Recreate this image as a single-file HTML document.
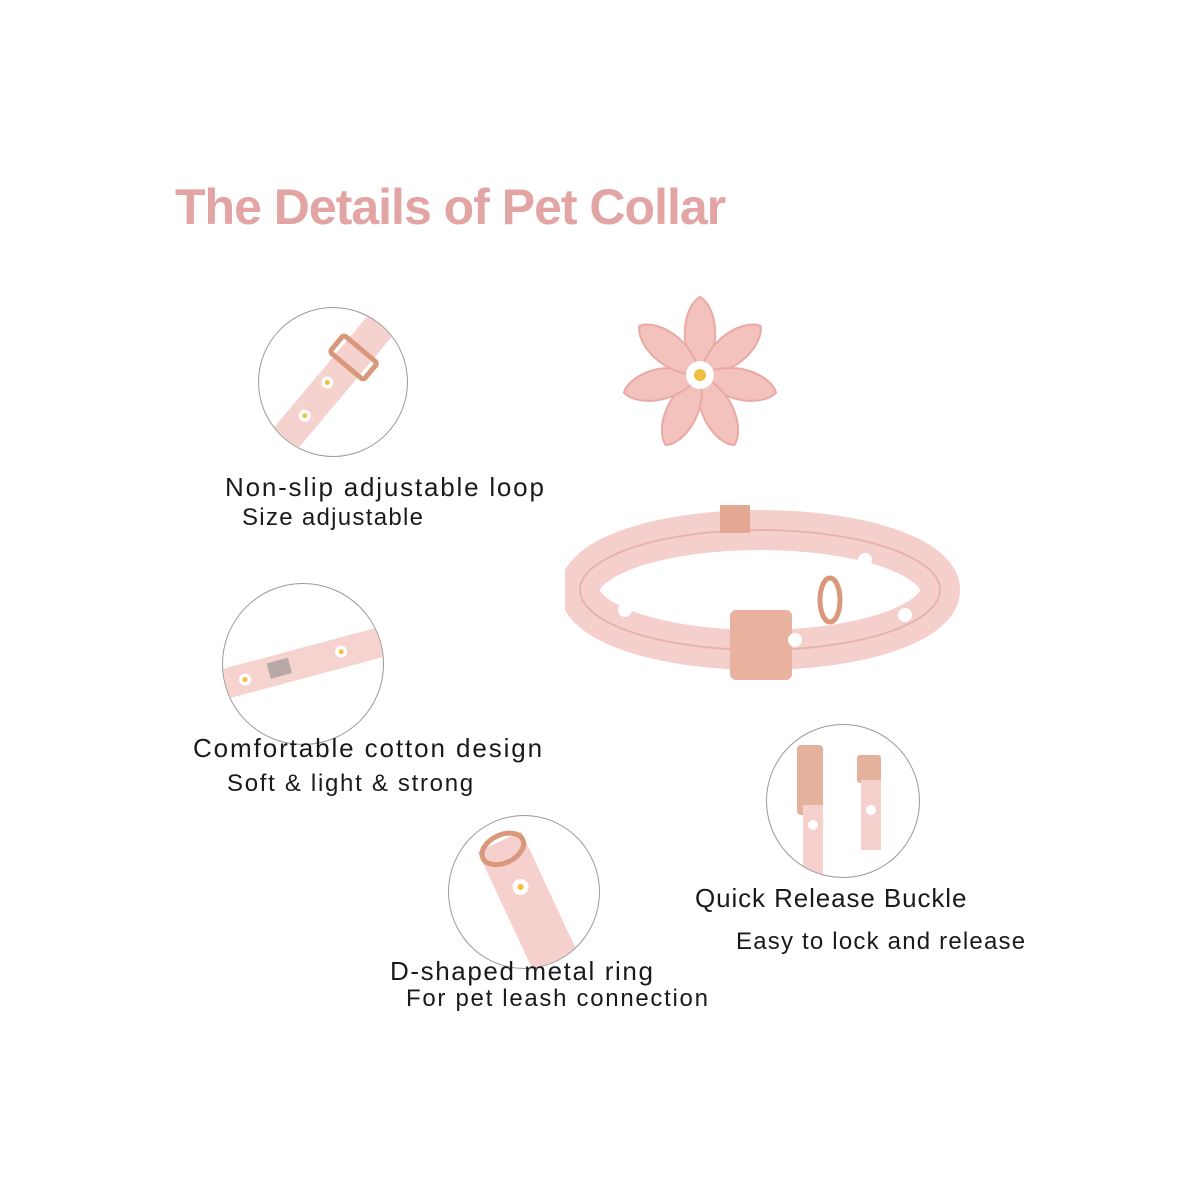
<!DOCTYPE html>
<html><head><meta charset="utf-8"><style>
html,body{margin:0;padding:0;background:#fff;}
#c{position:relative;width:1200px;height:1200px;overflow:hidden;background:#fff;font-family:"Liberation Sans",sans-serif;}
.t{position:absolute;white-space:nowrap;color:#1a1a1a;}
.circ{position:absolute;border:1.5px solid #9a9a9a;border-radius:50%;background:#fff;overflow:hidden;}
</style></head><body><div id="c">
<div class="t" style="left:175px;top:178px;font-size:50px;font-weight:bold;color:#e3a4a4;letter-spacing:-1px;">The Details of Pet Collar</div>

<div class="circ" style="left:258px;top:307px;width:148px;height:148px;">
<svg width="148" height="148"><g transform="rotate(-50 74 74)"><rect x="-10" y="58" width="170" height="32" fill="#f6d2cf"/><circle cx="30" cy="74" r="6" fill="#fff"/><circle cx="30" cy="74" r="2.5" fill="#f0c040"/><circle cx="70" cy="70" r="6" fill="#fff"/><circle cx="70" cy="70" r="2.5" fill="#f0c040"/><rect x="95" y="52" width="22" height="44" rx="3" fill="none" stroke="#d9987c" stroke-width="5"/></g></svg></div>

<div class="circ" style="left:222px;top:583px;width:160px;height:160px;">
<svg width="160" height="160"><g transform="rotate(-15 80 80)"><rect x="-10" y="64" width="190" height="30" fill="#f7d3d0"/><rect x="45" y="70" width="22" height="16" fill="#b8a8a8"/><circle cx="20" cy="80" r="6" fill="#fff"/><circle cx="20" cy="80" r="2.5" fill="#f0c040"/><circle cx="120" cy="78" r="6" fill="#fff"/><circle cx="120" cy="78" r="2.5" fill="#f0c040"/></g></svg></div>

<div class="circ" style="left:448px;top:815px;width:150px;height:152px;">
<svg width="150" height="152"><g transform="rotate(-25 75 76)"><rect x="50" y="20" width="48" height="140" fill="#f6d0cc"/><ellipse cx="74" cy="28" rx="22" ry="14" fill="none" stroke="#d9987c" stroke-width="5"/><circle cx="74" cy="70" r="8" fill="#fff"/><circle cx="74" cy="70" r="3" fill="#f0c040"/></g></svg></div>

<div class="circ" style="left:766px;top:724px;width:152px;height:152px;">
<svg width="152" height="152"><rect x="30" y="20" width="26" height="70" rx="4" fill="#e4b29c"/><rect x="36" y="80" width="20" height="75" fill="#f6d0cc"/><rect x="90" y="30" width="24" height="28" rx="3" fill="#e4b29c"/><rect x="94" y="55" width="20" height="70" fill="#f6d0cc"/><circle cx="46" cy="100" r="5" fill="#fff"/><circle cx="104" cy="85" r="5" fill="#fff"/></svg></div>

<svg style="position:absolute;left:620px;top:295px" width="160" height="160" viewBox="-80 -80 160 160">
<g fill="#f4c2bd" stroke="#e9a9a4" stroke-width="2">
<path d="M0 0 C-25 -30 -15 -70 0 -78 C15 -70 25 -30 0 0Z"/>
<path d="M0 0 C-25 -30 -15 -70 0 -78 C15 -70 25 -30 0 0Z" transform="rotate(51)"/>
<path d="M0 0 C-25 -30 -15 -70 0 -78 C15 -70 25 -30 0 0Z" transform="rotate(103)"/>
<path d="M0 0 C-25 -30 -15 -70 0 -78 C15 -70 25 -30 0 0Z" transform="rotate(154)"/>
<path d="M0 0 C-25 -30 -15 -70 0 -78 C15 -70 25 -30 0 0Z" transform="rotate(206)"/>
<path d="M0 0 C-25 -30 -15 -70 0 -78 C15 -70 25 -30 0 0Z" transform="rotate(257)"/>
<path d="M0 0 C-25 -30 -15 -70 0 -78 C15 -70 25 -30 0 0Z" transform="rotate(309)"/>
</g><circle r="14" fill="#fff"/><circle r="6" fill="#f0c040"/></svg>

<svg style="position:absolute;left:565px;top:505px" width="400" height="190">
<ellipse cx="195" cy="85" rx="180" ry="60" fill="none" stroke="#f4cfcb" stroke-width="40"/>
<ellipse cx="195" cy="85" rx="180" ry="60" fill="none" stroke="#e9b3ad" stroke-width="2"/>
<rect x="155" y="0" width="30" height="28" fill="#e3a892"/>
<rect x="165" y="105" width="62" height="70" rx="6" fill="#e8b29f"/>
<ellipse cx="265" cy="95" rx="10" ry="22" fill="none" stroke="#d9987c" stroke-width="5"/>
<circle cx="60" cy="105" r="7" fill="#fff"/><circle cx="230" cy="135" r="7" fill="#fff"/><circle cx="300" cy="55" r="7" fill="#fff"/><circle cx="340" cy="110" r="7" fill="#fff"/>
</svg>

<div class="t" style="left:225px;top:472px;font-size:26px;letter-spacing:1.8px;">Non-slip adjustable loop</div>
<div class="t" style="left:242px;top:504px;font-size:24px;letter-spacing:1.3px;">Size adjustable</div>
<div class="t" style="left:193px;top:733px;font-size:26px;letter-spacing:1.9px;">Comfortable cotton design</div>
<div class="t" style="left:227px;top:770px;font-size:24px;letter-spacing:1.7px;">Soft &amp; light &amp; strong</div>
<div class="t" style="left:695px;top:883px;font-size:26px;letter-spacing:0.9px;">Quick Release Buckle</div>
<div class="t" style="left:736px;top:928px;font-size:24px;letter-spacing:1.2px;">Easy to lock and release</div>
<div class="t" style="left:390px;top:956px;font-size:26px;letter-spacing:1.6px;">D-shaped metal ring</div>
<div class="t" style="left:406px;top:985px;font-size:24px;letter-spacing:1.7px;">For pet leash connection</div>
</div></body></html>
